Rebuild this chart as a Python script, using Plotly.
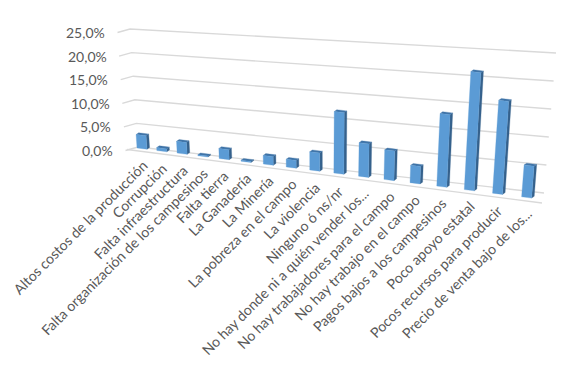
import plotly.graph_objects as go

categories = ["Altos costos de la producción", "Corrupción", "Falta infraestructura",
              "Falta organización de los campesinos", "Falta tierra", "La Ganadería",
              "La Minería", "La pobreza en el campo", "La violencia", "Ninguno ó ns/nr",
              "No hay donde ni a quién vender los...", "No hay trabajadores para el campo",
              "No hay trabajo en el campo", "Pagos bajos a los campesinos", "Poco apoyo estatal",
              "Pocos recursos para producir", "Precio de venta bajo de los..."]
values = [2.8, 0.6, 2.4, 0.2, 2.0, 0.2, 1.7, 1.5, 3.5, 11.7, 6.3, 5.5, 3.2, 13.2, 21.2, 16.5, 5.6]
ticks = [0, 5, 10, 15, 20, 25]
tick_labels = ["0,0%", "5,0%", "10,0%", "15,0%", "20,0%", "25,0%"]

FONT = "Lato"
TXT = "#595959"
GRID = "#d9d9d9"


# oblique projection of the Excel 3-D chart: value axis + category axis -> page pixels
def base_x(i):
    return 137 + 19.6 * i / (1 - 0.01154 * i)


def project(i, v, dx=0.0, depth=0.0):
    x0 = base_x(i)
    t = (x0 - 137) / 385
    y0 = 148 + 0.127 * (x0 - 137)
    scale = 4.8 + 0.9 * t
    lean = -0.068 + 0.154 * (x0 - 138) / 406
    h = v * scale
    x = x0 + dx + lean * h + 2.6 * depth
    y = y0 + 0.127 * dx - h - 1.8 * depth
    return x, y


def wall(v, side):
    if side == "left":
        return 138 - 0.32 * v, 147 - 4.72 * v
    return 544 + 0.48 * v, 193 - 5.6 * v


def add_poly(xs, ys, pts):
    xs.extend([p[0] for p in pts] + [pts[0][0], None])
    ys.extend([p[1] for p in pts] + [pts[0][1], None])


fig = go.Figure()

# gridlines
gx, gy = [], []
for t in ticks:
    lx, ly = wall(t, "left")
    rx, ry = wall(t, "right")
    gx += [lx - 12.5, lx, rx, None]
    gy += [ly + 3.5, ly, ry, None]
gx += [wall(0, "left")[0] - 11, 542, None]
gy += [wall(0, "left")[1] + 2.5, 203, None]
fig.add_trace(go.Scatter(x=gx, y=gy, mode="lines", line=dict(color=GRID, width=1.4),
                         hoverinfo="skip", showlegend=False))

W = 10
front_x, front_y, side_x, side_y, top_x, top_y = [], [], [], [], [], []
for i, v in enumerate(values):
    a = project(i, 0)
    b = project(i, 0, W)
    c = project(i, v, W)
    d = project(i, v)
    b2 = project(i, 0, W, 1)
    c2 = project(i, v, W, 1)
    d2 = project(i, v, 0, 1)
    add_poly(front_x, front_y, [a, b, c, d])
    add_poly(side_x, side_y, [b, b2, c2, c])
    add_poly(top_x, top_y, [d, c, c2, d2])

for xs, ys, col in [(side_x, side_y, "#35618c"), (top_x, top_y, "#3f74a8"), (front_x, front_y, "#5b9bd5")]:
    fig.add_trace(go.Scatter(x=xs, y=ys, mode="lines", fill="toself", fillcolor=col,
                             line=dict(color=col, width=0.3), hoverinfo="skip", showlegend=False))

annotations = []
for t, lab in zip(ticks, tick_labels):
    lx, ly = wall(t, "left")
    annotations.append(dict(x=lx - 23, y=ly + 3.5, text=lab, showarrow=False, xanchor="right", yanchor="middle",
                            font=dict(family=FONT, size=14, color=TXT)))
for i, cat in enumerate(categories):
    x0, y0 = project(i, 0)
    annotations.append(dict(x=x0 + 16, y=y0 + 6, text=cat, showarrow=False, textangle=-45,
                            xanchor="right", yanchor="top",
                            font=dict(family=FONT, size=14.2, color=TXT)))

fig.update_layout(
    width=572, height=366, margin=dict(l=0, r=0, t=0, b=0),
    paper_bgcolor="white", plot_bgcolor="white", showlegend=False,
    xaxis=dict(range=[8, 580], visible=False, fixedrange=True),
    yaxis=dict(range=[374, 8], visible=False, fixedrange=True),
    annotations=annotations,
)
fig.write_html("out.html", config=dict(displayModeBar=False))
